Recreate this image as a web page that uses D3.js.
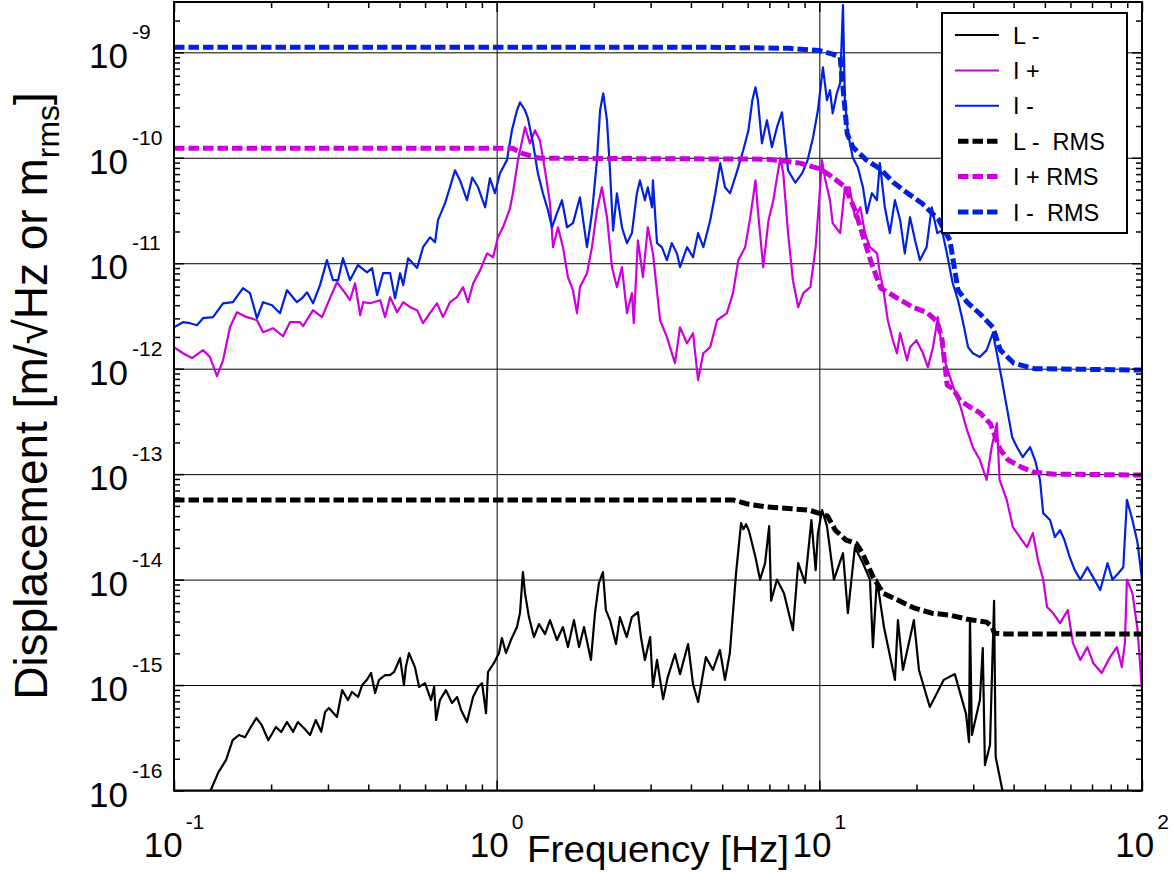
<!DOCTYPE html>
<html>
<head>
<meta charset="utf-8">
<script src="https://cdn.jsdelivr.net/npm/d3@7"></script>
<style>
  body { margin: 0; background: #fff; }
  svg { display: block; }
  text { font-family: "Liberation Sans", Arial, Helvetica, sans-serif; fill: #000; }
</style>
</head>
<body>
<svg id="chart" width="1174" height="882"></svg>
<script>
// Axis extents and tick decades
const freqDomain = [0.1, 100];
const dispDomain = [1e-16, 3e-9];
const freqDecades = [0.1, 1, 10, 100];
const freqExponents = ["-1", "0", "1", "2"];
const dispDecades = [1e-16, 1e-15, 1e-14, 1e-13, 1e-12, 1e-11, 1e-10, 1e-9];
const dispExponents = ["-16", "-15", "-14", "-13", "-12", "-11", "-10", "-9"];

// Series names as shown in the legend
const seriesNames = ["L -", "I +", "I -", "L -  RMS", "I + RMS", "I -  RMS"];

// Amplitude spectral densities [Hz, m/sqrt(Hz)]
const lMinus = [
[0.127,8.5e-17],[0.137,1.47e-16],[0.145,1.95e-16],[0.152,3.0e-16],[0.159,3.36e-16],[0.166,3.2e-16],[0.173,4.0e-16],[0.180,4.87e-16],[0.187,4.17e-16],[0.196,3.0e-16],[0.207,4.0e-16],[0.215,3.59e-16],[0.224,4.46e-16],[0.234,3.6e-16],[0.242,4.46e-16],[0.253,3.9e-16],[0.264,3.36e-16],[0.275,4.66e-16],[0.286,3.6e-16],[0.294,5.55e-16],[0.302,6.06e-16],[0.320,4.98e-16],[0.332,8.96e-16],[0.346,7.2e-16],[0.356,8.6e-16],[0.372,7.7e-16],[0.383,1.0e-15],[0.396,1.12e-15],[0.408,1.3e-15],[0.420,8.4e-16],[0.432,1.12e-15],[0.451,1.24e-15],[0.467,1.24e-15],[0.481,1.33e-15],[0.502,1.8e-15],[0.516,1.0e-15],[0.523,1.48e-15],[0.535,2.01e-15],[0.558,1.48e-15],[0.575,9.6e-16],[0.600,1.04e-15],[0.626,7.2e-16],[0.640,9.6e-16],[0.649,4.66e-16],[0.667,7.2e-16],[0.696,8.96e-16],[0.727,6.76e-16],[0.754,7.7e-16],[0.776,5.8e-16],[0.809,4.46e-16],[0.845,7.7e-16],[0.876,9.6e-16],[0.901,1.04e-15],[0.927,5.4e-16],[0.940,1.33e-15],[0.981,1.62e-15],[1.017,2.01e-15],[1.038,2.79e-15],[1.069,2.01e-15],[1.107,2.67e-15],[1.156,3.55e-15],[1.181,4.81e-15],[1.206,1.18e-14],[1.224,7.44e-15],[1.259,4.41e-15],[1.305,2.85e-15],[1.352,3.79e-15],[1.412,3.04e-15],[1.463,4.13e-15],[1.538,2.67e-15],[1.605,3.55e-15],[1.663,2.29e-15],[1.736,4.13e-15],[1.80,2.29e-15],[1.865,3.55e-15],[1.96,1.73e-15],[2.017,4.81e-15],[2.075,9.3e-15],[2.135,1.18e-14],[2.18,5.14e-15],[2.245,4.13e-15],[2.343,2.45e-15],[2.41,4.41e-15],[2.53,2.85e-15],[2.625,4.41e-15],[2.74,4.92e-15],[2.80,2.85e-15],[2.88,1.73e-15],[2.99,2.85e-15],[3.05,9.6e-16],[3.14,1.73e-15],[3.28,7.36e-16],[3.39,1.19e-15],[3.57,1.97e-15],[3.70,1.27e-15],[3.92,2.45e-15],[4.06,1.02e-15],[4.21,6.9e-16],[4.45,1.84e-15],[4.68,1.39e-15],[4.92,2.15e-15],[5.10,1.12e-15],[5.28,2.01e-15],[5.52,1.15e-14],[5.72,3.43e-14],[5.82,3.0e-14],[5.93,3.35e-14],[6.05,2.9e-14],[6.15,2.37e-14],[6.34,1.63e-14],[6.55,1.0e-14],[6.79,1.43e-14],[6.99,3.21e-14],[7.09,6.3e-15],[7.39,1.0e-14],[7.77,7.44e-15],[8.28,3.32e-15],[8.6,1.43e-14],[9.03,9.3e-15],[9.45,3.67e-14],[9.74,1.23e-14],[9.9,2.76e-14],[10.2,4.56e-14],[10.56,3.21e-14],[11.1,1.0e-14],[11.84,1.78e-14],[12.26,4.81e-15],[12.89,2.03e-14],[13.65,1.43e-14],[14.35,1.0e-14],[14.66,2.29e-15],[15.08,1.0e-14],[15.86,3.55e-15],[17.15,1.12e-15],[17.52,4.13e-15],[18.16,1.39e-15],[19.64,4.13e-15],[20.36,1.39e-15],[22.0,6.2e-16],[24.3,1.12e-15],[26.3,1.27e-15],[28.5,5.3e-16],[29.1,2.88e-16],[29.3,4.22e-15],[29.7,3.36e-16],[31.45,7.2e-16],[32.1,2.24e-15],[32.6,1.74e-16],[33.8,2.7e-16],[34.8,6.3e-15],[35.2,2.08e-16],[37.2,9e-17]
];

const iPlus = [
[0.1,1.6e-12],[0.1066,1.4e-12],[0.1137,1.26e-12],[0.123,1.5e-12],[0.1293,1.29e-12],[0.1359,8.5e-13],[0.1419,1.2e-12],[0.1491,2.47e-12],[0.1567,3.43e-12],[0.1683,3.08e-12],[0.1808,2.88e-12],[0.1888,2.22e-12],[0.2028,2.42e-12],[0.2177,2.03e-12],[0.2288,2.76e-12],[0.2458,2.76e-12],[0.2512,2.53e-12],[0.2697,3.59e-12],[0.2876,3.08e-12],[0.3044,4.66e-12],[0.32,6.6e-12],[0.334,5.55e-12],[0.3511,4.46e-12],[0.364,6.46e-12],[0.3776,3.21e-12],[0.3857,4.27e-12],[0.4055,4.17e-12],[0.4357,4.46e-12],[0.4509,3.08e-12],[0.4675,4.76e-12],[0.4915,3.43e-12],[0.5133,4.27e-12],[0.5395,3.83e-12],[0.5669,3.59e-12],[0.5914,2.7e-12],[0.6215,3.36e-12],[0.6531,4.17e-12],[0.6819,3.08e-12],[0.7166,4.27e-12],[0.7531,4.76e-12],[0.7867,5.93e-12],[0.815,4.27e-12],[0.846,6.46e-12],[0.889,8.6e-12],[0.934,1.24e-11],[0.975,1.14e-11],[1.009,1.76e-11],[1.046,2.19e-11],[1.10,3.32e-11],[1.123,4.61e-11],[1.164,9.5e-11],[1.224,1.95e-10],[1.268,1.37e-10],[1.314,1.82e-10],[1.362,1.46e-10],[1.412,7.6e-11],[1.463,3.71e-11],[1.495,1.42e-11],[1.549,2.19e-11],[1.605,1.42e-11],[1.663,7.36e-12],[1.724,5.55e-12],[1.774,3.36e-12],[1.812,5.93e-12],[1.905,8.04e-12],[1.974,1.42e-11],[2.046,3.18e-11],[2.119,5.25e-11],[2.197,2.73e-11],[2.277,9.2e-12],[2.359,5.93e-12],[2.445,9.2e-12],[2.534,3.36e-12],[2.625,5.2e-12],[2.66,2.7e-12],[2.74,1.65e-11],[2.84,7.36e-12],[2.94,2.19e-11],[3.05,1.24e-11],[3.21,2.88e-12],[3.37,1.99e-12],[3.57,1.13e-12],[3.70,2.47e-12],[3.89,1.74e-12],[4.06,2.17e-12],[4.21,7.8e-13],[4.37,1.4e-12],[4.59,1.6e-12],[4.82,2.88e-12],[5.17,3.36e-12],[5.40,5.2e-12],[5.61,1.07e-11],[5.89,1.42e-11],[6.11,2.73e-11],[6.34,6.1e-11],[6.45,3.18e-11],[6.70,9.2e-12],[6.96,2.56e-11],[7.2,3.96e-11],[7.57,1.0e-10],[7.73,7.14e-11],[8.0,1.93e-11],[8.28,6.9e-12],[8.6,3.83e-12],[8.92,5.2e-12],[9.38,5.93e-12],[9.74,1.42e-11],[9.9,2.73e-11],[10.19,9.5e-11],[10.4,6.5e-11],[10.79,3.96e-11],[11.0,2.4e-11],[11.6,1.93e-11],[12.0,5.25e-11],[12.4,5.25e-11],[12.9,2.73e-11],[13.4,3.39e-11],[13.85,1.93e-11],[14.35,1.42e-11],[15.1,1.24e-11],[15.4,8.04e-12],[15.75,5.93e-12],[16.3,2.88e-12],[16.9,1.86e-12],[17.4,1.4e-12],[17.8,2.17e-12],[18.7,1.2e-12],[19.1,1.6e-12],[20.0,1.86e-12],[20.95,1.4e-12],[21.7,1.03e-12],[22.5,1.6e-12],[23.3,3.08e-12],[24.1,1.4e-12],[25.0,9.7e-13],[25.9,6.98e-13],[27.3,4.5e-13],[28.7,2.61e-13],[29.9,1.8e-13],[31.45,1.36e-13],[33.0,8.8e-14],[34.2,1.8e-13],[35.5,3.04e-13],[36.2,8.8e-14],[38.1,5.7e-14],[39.8,3.14e-14],[41.8,2.53e-14],[44.0,2.03e-14],[45.9,2.76e-14],[47.6,1.53e-14],[49.4,1.0e-14],[50.8,5.5e-15],[53.0,4.81e-15],[55.7,3.87e-15],[58.9,5.14e-15],[61.1,2.5e-15],[64.4,1.73e-15],[67.7,2.29e-15],[70.6,1.62e-15],[75.0,1.3e-15],[79.6,1.84e-15],[83.6,2.29e-15],[86.6,1.48e-15],[88.5,2.5e-15],[89.8,1.0e-14],[93.4,7.44e-15],[96.9,3.32e-15],[100,8.9e-16]
];

const iMinus = [
[0.1,2.47e-12],[0.1066,2.76e-12],[0.1121,2.7e-12],[0.1178,2.58e-12],[0.123,3.01e-12],[0.1321,3.08e-12],[0.1419,4.17e-12],[0.1523,4.27e-12],[0.1636,5.8e-12],[0.172,5.2e-12],[0.1808,3.01e-12],[0.1888,4.27e-12],[0.2013,4.0e-12],[0.2131,3.36e-12],[0.224,5.55e-12],[0.2405,4.27e-12],[0.2494,4.66e-12],[0.2584,5.3e-12],[0.2697,4.17e-12],[0.2835,6.2e-12],[0.2978,1.07e-11],[0.311,6.9e-12],[0.3224,6.9e-12],[0.334,1.115e-11],[0.3511,6.9e-12],[0.3716,9.6e-12],[0.3966,8.2e-12],[0.411,9.0e-12],[0.426,4.98e-12],[0.4445,8.04e-12],[0.4675,8.04e-12],[0.4843,4.66e-12],[0.502,8.04e-12],[0.5133,6.2e-12],[0.5317,1.115e-11],[0.5669,9.0e-12],[0.5914,1.42e-11],[0.6215,1.76e-11],[0.644,1.58e-11],[0.658,2.56e-11],[0.692,3.71e-11],[0.7166,5.25e-11],[0.7427,7.6e-11],[0.77,6.1e-11],[0.809,3.96e-11],[0.84,6.5e-11],[0.876,5.25e-11],[0.921,3.39e-11],[0.953,6.4e-11],[0.988,4.61e-11],[1.024,7.14e-11],[1.076,9.5e-11],[1.115,1.82e-10],[1.156,2.82e-10],[1.181,3.36e-10],[1.224,2.82e-10],[1.25,2.37e-10],[1.296,1.37e-10],[1.342,7.14e-11],[1.391,4.61e-11],[1.442,3.18e-11],[1.484,2.19e-11],[1.538,2.98e-11],[1.594,3.96e-11],[1.652,2.19e-11],[1.724,2.4e-11],[1.812,4.22e-11],[1.905,1.42e-11],[1.974,2.98e-11],[2.046,9.5e-11],[2.092,2.82e-10],[2.139,4.09e-10],[2.197,2.27e-10],[2.245,7.6e-11],[2.295,2.05e-11],[2.359,4.61e-11],[2.445,2.19e-11],[2.534,1.55e-11],[2.625,1.93e-11],[2.72,4.61e-11],[2.78,6.1e-11],[2.88,3.96e-11],[2.94,5.25e-11],[3.03,3.39e-11],[3.05,6.1e-11],[3.14,1.55e-11],[3.25,1.42e-11],[3.37,1.07e-11],[3.49,1.55e-11],[3.62,1.24e-11],[3.70,9.2e-12],[3.89,1.42e-11],[4.06,1.14e-11],[4.21,1.93e-11],[4.37,1.42e-11],[4.59,2.56e-11],[4.76,4.61e-11],[4.93,8.9e-11],[5.10,5.25e-11],[5.29,4.61e-11],[5.57,7.6e-11],[5.81,1.18e-10],[6.03,1.82e-10],[6.2,3.51e-10],[6.34,4.66e-10],[6.45,3.51e-10],[6.64,1.37e-10],[6.88,2.27e-10],[7.13,1.26e-10],[7.39,1.95e-10],[7.66,2.7e-10],[7.82,1.46e-10],[8.0,7.6e-11],[8.43,5.8e-11],[8.85,7.14e-11],[9.2,9.5e-11],[9.56,1.56e-10],[9.9,2.82e-10],[10.26,7.2e-10],[10.56,3.51e-10],[10.79,4.37e-10],[11.0,2.64e-10],[11.33,4.09e-10],[11.6,5.1e-10],[11.84,2.8e-9],[12.0,3.51e-10],[12.26,1.71e-10],[12.7,1.0e-10],[13.17,8.1e-11],[13.65,5.25e-11],[14.04,2.98e-11],[14.55,4.61e-11],[15.08,3.96e-11],[15.4,8.9e-11],[15.96,3.39e-11],[16.54,1.93e-11],[17.15,3.96e-11],[17.8,2.56e-11],[18.4,1.24e-11],[19.1,2.73e-11],[19.8,1.65e-11],[20.5,1.07e-11],[21.5,1.42e-11],[22.3,3.39e-11],[23.2,1.93e-11],[24.0,2.05e-11],[24.85,1.24e-11],[25.9,6.46e-12],[26.9,4.46e-12],[27.8,2.88e-12],[28.9,1.6e-12],[29.9,1.4e-12],[31.45,1.29e-12],[33.0,1.5e-12],[34.5,2.17e-12],[35.5,1.4e-12],[36.8,7.8e-13],[38.1,4.32e-13],[39.6,2.24e-13],[41.0,1.8e-13],[42.7,1.45e-13],[45.0,1.8e-13],[46.6,1.36e-13],[48.3,8.8e-14],[49.4,4.27e-14],[51.9,3.67e-14],[53.7,2.53e-14],[55.7,2.95e-14],[57.5,2.37e-14],[59.7,1.63e-14],[61.9,1.23e-14],[64.4,1.0e-14],[67.7,1.31e-14],[70.6,1.05e-14],[74.2,7.96e-15],[78.2,1.43e-14],[81.0,1.0e-14],[84.5,1.15e-14],[87.5,1.31e-14],[89.8,5.7e-14],[93.4,3.67e-14],[96.9,2.22e-14],[100,1.0e-14]
];

// Cumulative RMS, integrated from high to low frequency [Hz, m rms]
const lMinusRms = [
[0.1,5.7e-14],[5.4,5.7e-14],[6.0,5.2e-14],[6.8,4.9e-14],[8.2,4.7e-14],[9.3,4.55e-14],[9.9,4.3e-14],[10.6,4.0e-14],[11.2,2.95e-14],[12.1,2.37e-14],[13.0,2.2e-14],[13.6,1.78e-14],[14.7,1.05e-14],[15.8,7.4e-15],[17.5,6.4e-15],[19.6,5.4e-15],[22.3,4.8e-15],[25.4,4.6e-15],[28.8,4.2e-15],[33.0,3.95e-15],[34.3,3.55e-15],[34.9,3.1e-15],[37.7,3.05e-15],[100,3.05e-15]
];

const iPlusRms = [
[0.1,1.23e-10],[1.12,1.23e-10],[1.2,1.1e-10],[1.36,9.9e-11],[6.9,9.7e-11],[8.7,8.9e-11],[10,7.9e-11],[10.8,6.8e-11],[12.0,5.3e-11],[12.9,3.2e-11],[14.4,1.07e-11],[15.5,5.8e-12],[17.8,4.5e-12],[19.6,3.8e-12],[21.6,3.4e-12],[23.2,2.8e-12],[24.0,1.9e-12],[24.9,7.0e-13],[26.0,6.4e-13],[27.3,5.0e-13],[29.4,4.3e-13],[31.5,3.8e-13],[33.9,3.0e-13],[36.4,1.7e-13],[38.5,1.36e-13],[42.4,1.16e-13],[46.4,1.04e-13],[53.6,1.0e-13],[100,9.8e-14]
];

const iMinusRms = [
[0.1,1.12e-9],[4.27,1.12e-9],[8.1,1.09e-9],[10.0,1.04e-9],[11.0,9.6e-10],[11.6,9.0e-10],[11.9,3.9e-10],[12.2,1.7e-10],[12.7,1.26e-10],[14.0,9.5e-11],[15.4,7.9e-11],[17.0,5.8e-11],[18.8,4.6e-11],[20.8,3.7e-11],[23.4,2.6e-11],[25.4,1.65e-11],[26.9,5.55e-12],[28.7,4.27e-12],[31.5,3.3e-12],[34.5,2.47e-12],[36.4,1.5e-12],[40.0,1.13e-12],[46.4,1.0e-12],[100,9.7e-13]
];

// ---------------------------------------------------------------
const colors = { black: "#000000", magenta: "#cc00dd", blue: "#0022dd" };
const series = [
  { name: seriesNames[0], data: lMinus,    color: colors.black,   dashed: false },
  { name: seriesNames[1], data: iPlus,     color: colors.magenta, dashed: false },
  { name: seriesNames[2], data: iMinus,    color: colors.blue,    dashed: false },
  { name: seriesNames[3], data: lMinusRms, color: colors.black,   dashed: true },
  { name: seriesNames[4], data: iPlusRms,  color: colors.magenta, dashed: true },
  { name: seriesNames[5], data: iMinusRms, color: colors.blue,    dashed: true }
];

const svg = d3.select("#chart");
const plot = { left: 174, right: 1142, top: 2, bottom: 790.5 };

const x = d3.scaleLog().domain(freqDomain).range([plot.left, plot.right]);
const y = d3.scaleLog().domain(dispDomain).range([plot.bottom, plot.top]);

svg.append("rect").attr("width", 1174).attr("height", 882).attr("fill", "#fff");

// minor ticks for a log axis: 2..9 within every decade
function minorValues(decades) {
  const out = [];
  decades.slice(0, -1).forEach(d => { for (let m = 2; m <= 9; m++) out.push(m * d); });
  return out;
}
const xMinor = minorValues(freqDecades);
const yMinor = minorValues(dispDecades.concat([1e-8])).filter(v => v <= dispDomain[1]);

function styleAxis(g, width) {
  g.select(".domain").remove();
  g.selectAll("line").attr("stroke", "#000").attr("stroke-width", width);
  g.selectAll("text").remove();
}

// grid at each decade
svg.append("g").attr("transform", `translate(0,${plot.bottom})`)
  .call(d3.axisBottom(x).tickValues(freqDecades).tickSize(-(plot.bottom - plot.top)).tickFormat(""))
  .call(g => styleAxis(g, 1));
svg.append("g").attr("transform", `translate(${plot.left},0)`)
  .call(d3.axisLeft(y).tickValues(dispDecades).tickSize(-(plot.right - plot.left)).tickFormat(""))
  .call(g => styleAxis(g, 1));

// data lines
svg.append("clipPath").attr("id", "plot-clip").append("rect")
  .attr("x", plot.left).attr("y", plot.top)
  .attr("width", plot.right - plot.left).attr("height", plot.bottom - plot.top);

const line = d3.line().x(d => x(d[0])).y(d => y(d[1]));
const dataLayer = svg.append("g").attr("clip-path", "url(#plot-clip)");
series.forEach(s => {
  dataLayer.append("path")
    .datum(s.data)
    .attr("d", line)
    .attr("fill", "none")
    .attr("stroke", s.color)
    .attr("stroke-width", s.dashed ? 5 : 2.2)
    .attr("stroke-dasharray", s.dashed ? "10.5,4" : null)
    .attr("stroke-linejoin", "round");
});

// inward ticks on all four sides
const tickSets = [
  { axis: d3.axisBottom(x), pos: `translate(0,${plot.bottom})`, minor: xMinor, major: freqDecades },
  { axis: d3.axisTop(x),    pos: `translate(0,${plot.top})`,    minor: xMinor, major: freqDecades },
  { axis: d3.axisLeft(y),   pos: `translate(${plot.left},0)`,   minor: yMinor, major: dispDecades },
  { axis: d3.axisRight(y),  pos: `translate(${plot.right},0)`,  minor: yMinor, major: dispDecades }
];
tickSets.forEach(t => {
  svg.append("g").attr("transform", t.pos)
    .call(t.axis.tickValues(t.minor).tickSize(-6).tickFormat(""))
    .call(g => styleAxis(g, 1.5));
  svg.append("g").attr("transform", t.pos)
    .call(t.axis.tickValues(t.major).tickSize(-10).tickFormat(""))
    .call(g => styleAxis(g, 1.5));
});

// plot frame
svg.append("rect")
  .attr("x", plot.left).attr("y", plot.top)
  .attr("width", plot.right - plot.left).attr("height", plot.bottom - plot.top)
  .attr("fill", "none").attr("stroke", "#000").attr("stroke-width", 2);

// x tick labels: 10 with a raised exponent, centred on the tick
freqDecades.forEach((d, i) => {
  const t = svg.append("text")
    .attr("x", x(d)).attr("y", 857)
    .attr("text-anchor", "middle")
    .style("font-size", "35px");
  t.append("tspan").text("10");
  t.append("tspan").attr("dx", 3).attr("dy", -28).style("font-size", "21px").text(freqExponents[i]);
});

// y tick labels
dispDecades.forEach((d, i) => {
  svg.append("text")
    .attr("x", 128).attr("y", y(d) + 16)
    .attr("text-anchor", "end")
    .style("font-size", "35px")
    .text("10");
  svg.append("text")
    .attr("x", 132).attr("y", y(d) - 13)
    .attr("text-anchor", "start")
    .style("font-size", "21px")
    .text(dispExponents[i]);
});

// axis titles
svg.append("text")
  .attr("x", 527).attr("y", 862)
  .attr("textLength", 262).attr("lengthAdjust", "spacingAndGlyphs")
  .style("font-size", "36px")
  .text("Frequency [Hz]");

const yTitle = svg.append("text")
  .attr("transform", "translate(47,396) rotate(-90)")
  .attr("text-anchor", "middle")
  .style("font-size", "46px");
yTitle.append("tspan").text("Displacement [m/\u221AHz or m");
yTitle.append("tspan").attr("dy", 12).style("font-size", "32px").text("rms");
yTitle.append("tspan").attr("dy", -12).text("]");

// legend
const legend = svg.append("g");
legend.append("rect")
  .attr("x", 942).attr("y", 13).attr("width", 185).attr("height", 220)
  .attr("fill", "#fff").attr("stroke", "#000").attr("stroke-width", 2);
series.forEach((s, i) => {
  const cy = 35 + i * 35.4;
  legend.append("line")
    .attr("x1", s.dashed ? 958 : 955).attr("x2", 999)
    .attr("y1", cy).attr("y2", cy)
    .attr("stroke", s.color)
    .attr("stroke-width", s.dashed ? 5 : 2)
    .attr("stroke-dasharray", s.dashed ? "10.5,4" : null);
  legend.append("text")
    .attr("x", 1013).attr("y", cy + 8.5)
    .attr("xml:space", "preserve")
    .style("white-space", "pre")
    .style("font-size", "23.5px")
    .text(s.name);
});
</script>
</body>
</html>
